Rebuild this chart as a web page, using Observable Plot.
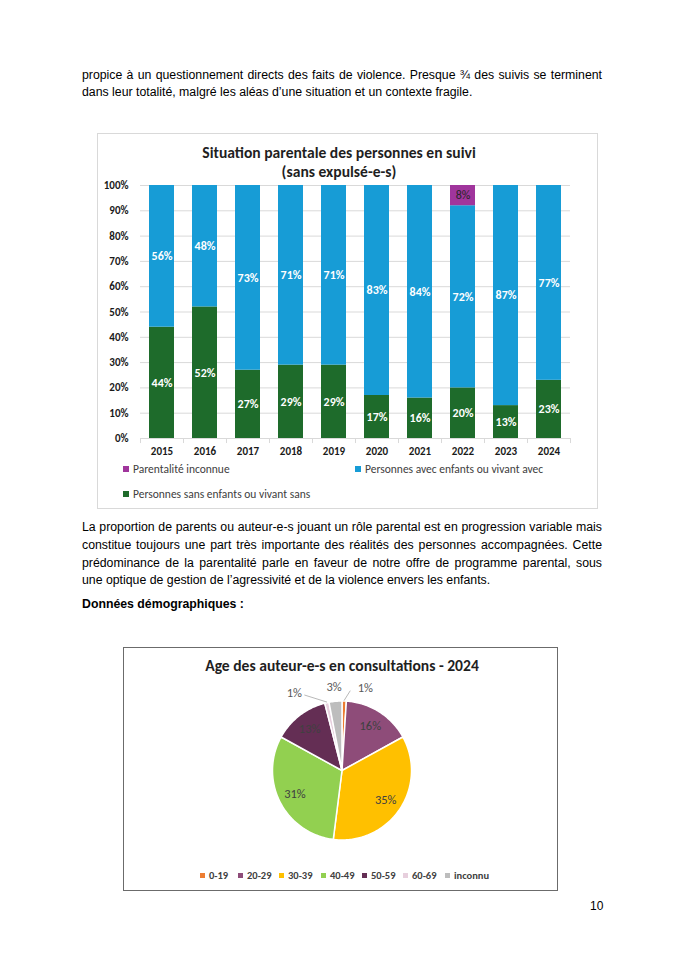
<!DOCTYPE html>
<html><head><meta charset="utf-8">
<script src="https://cdn.jsdelivr.net/npm/d3@7"></script>
<script src="https://cdn.jsdelivr.net/npm/@observablehq/plot@0.6"></script>
<style>
body{margin:0;background:#fff;}
#page{position:relative;width:684px;height:968px;overflow:hidden;font-family:"Liberation Sans",Arial,sans-serif;color:#000;background:#fff;}
.ln{position:absolute;left:82px;font-size:12.3px;line-height:18px;white-space:nowrap;}
.box{position:absolute;box-sizing:border-box;}
.ct{position:absolute;font-family:Carlito,Calibri,Lato,sans-serif;font-weight:bold;white-space:nowrap;transform:translateX(-50%);}
.lg{position:absolute;font-family:Carlito,Calibri,Lato,sans-serif;white-space:nowrap;display:flex;align-items:center;}
.lg i{display:inline-block;}
</style>
</head><body>
<div id="page">
  <div class="ln jl" style="top:66px">propice à un questionnement directs des faits de violence. Presque ¾ des suivis se terminent</div>
  <div class="ln" style="top:83px">dans leur totalité, malgré les aléas d’une situation et un contexte fragile.</div>

  <div class="box" style="left:97px;top:133px;width:501px;height:376px;border:1px solid #d9d9d9;"></div>
  <div class="ct" style="left:339px;top:143px;font-size:15.6px;color:#1f1f1f;">Situation parentale des personnes en suivi</div>
  <div class="ct" style="left:339px;top:162px;font-size:15.6px;color:#1f1f1f;">(sans expulsé-e-s)</div>
  <div id="barLegend"></div>

  <div class="ln jl" style="top:518px">La proportion de parents ou auteur-e-s jouant un rôle parental est en progression variable mais</div>
  <div class="ln jl" style="top:536px">constitue toujours une part très importante des réalités des personnes accompagnées. Cette</div>
  <div class="ln jl" style="top:554px">prédominance de la parentalité parle en faveur de notre offre de programme parental, sous</div>
  <div class="ln" style="top:571px">une optique de gestion de l’agressivité et de la violence envers les enfants.</div>
  <div class="ln" style="top:595px;font-weight:bold">Données démographiques :</div>

  <div class="box" style="left:123px;top:647px;width:435px;height:244px;border:1px solid #6b6b6b;"></div>
  <div class="ct" style="left:342px;top:656px;font-size:15.6px;color:#1f1f1f;">Age des auteur-e-s en consultations - 2024</div>
  <div id="pieLegend"></div>

  <div class="ln" style="top:897px;left:590px;font-size:12px">10</div>
</div>
<script>
// ---------- data: bar chart ----------
const years = ["2015","2016","2017","2018","2019","2020","2021","2022","2023","2024"];
const sansEnfants = [44,52,27,29,29,17,16,20,13,23];
const avecEnfants = [56,48,73,71,71,83,84,72,87,77];
const parentaliteInconnue = [0,0,0,0,0,0,0,8,0,0];
const seriesNames = ["Personnes sans enfants ou vivant sans","Personnes avec enfants ou vivant avec","Parentalité inconnue"];
const seriesColors = ["#1e6b2b","#179cd6","#a0359c"];
const yTicks = [0,10,20,30,40,50,60,70,80,90,100];

// ---------- data: pie chart ----------
const ageCats = ["0-19","20-29","30-39","40-49","50-59","60-69","inconnu"];
const agePct = [1,16,35,31,13,1,3];
const ageColors = ["#ed7d31","#8e4c79","#ffc000","#92d050","#642e54","#e7cfdd","#bdbdbd"];

const CF = "Carlito, Calibri, Lato, sans-serif";
const page = document.getElementById("page");

// justify lines
document.querySelectorAll(".jl").forEach(el => {
  const target = 520;
  const w = el.getBoundingClientRect().width;
  const spaces = (el.textContent.match(/ /g) || []).length;
  el.style.wordSpacing = ((target - w) / spaces) + "px";
});

// ---------- bar chart ----------
const seriesValues = [sansEnfants, avecEnfants, parentaliteInconnue];
const rows = [];
years.forEach((y, i) => seriesNames.forEach((s, k) => {
  if (seriesValues[k][i] > 0) rows.push({year: y, series: s, value: seriesValues[k][i]});
}));
const half = 21.5;
const bar = Plot.plot({
  width: 500, height: 290,
  marginTop: 10, marginBottom: 27, marginLeft: 43, marginRight: 27,
  style: {fontFamily: CF, background: "transparent", overflow: "visible", color: "#1a1a1a"},
  x: {domain: years, paddingInner: 0.42, paddingOuter: 0.21, label: null, tickSize: 0, tickPadding: 9},
  y: {domain: [0, 100], ticks: yTicks, tickFormat: d => d + "%", label: null, tickSize: 0, tickPadding: 12},
  color: {domain: seriesNames, range: seriesColors},
  marks: [
    Plot.ruleY(yTicks, {stroke: "#d9d9d9", strokeWidth: 1}),
    Plot.ruleX(years, {x: d => d, dx: -half, y1: 0, y2: -2, stroke: "#d9d9d9"}),
    Plot.ruleX(years.slice(-1), {x: d => d, dx: half, y1: 0, y2: -2, stroke: "#d9d9d9"}),
    Plot.barY(rows, {x: "year", y: "value", fill: "series", order: seriesNames}),
    Plot.text(rows, Plot.stackY({x: "year", y: "value", z: "series", order: seriesNames,
      text: d => d.series === seriesNames[2] ? null : d.value + "%",
      fill: "white", fontWeight: "bold", fontSize: 12})),
    Plot.text(rows, Plot.stackY({x: "year", y: "value", z: "series", order: seriesNames,
      text: d => d.series === seriesNames[2] ? d.value + "%" : null,
      fill: "#262626", fontSize: 12}))
  ]
});
bar.style.position = "absolute"; bar.style.left = "97px"; bar.style.top = "175px";
bar.querySelectorAll("g[aria-label$='tick label']").forEach(g => { g.setAttribute("font-size", "11"); g.setAttribute("font-weight", "bold"); });
page.appendChild(bar);

// bar legend
const barLegendPos = [[123, 463], [355, 463], [123, 488]];
const legOrder = [2, 1, 0];
legOrder.forEach((k, j) => {
  const d = document.createElement("div");
  d.className = "lg";
  d.style.left = barLegendPos[j][0] + "px"; d.style.top = barLegendPos[j][1] + "px";
  d.style.fontSize = "11.5px"; d.style.color = "#404040"; d.style.height = "12px";
  d.innerHTML = `<i style="width:6px;height:6px;background:${seriesColors[k]};margin-right:4px"></i>${seriesNames[k]}`;
  page.appendChild(d);
});

// ---------- pie chart ----------
const total = d3.sum(agePct);
let acc = 0;
const slices = ageCats.map((c, i) => {
  const a0 = acc / total * 360; acc += agePct[i]; const a1 = acc / total * 360;
  return {cat: c, pct: agePct[i], a0, a1, mid: (a0 + a1) / 2};
});
const rad = a => a * Math.PI / 180;
const pts = [];
for (const s of slices) {
  pts.push({cat: s.cat, x: 0, y: 0});
  const n = Math.max(2, Math.ceil(s.a1 - s.a0));
  for (let k = 0; k <= n; k++) {
    const a = rad(s.a0 + (s.a1 - s.a0) * k / n);
    pts.push({cat: s.cat, x: Math.sin(a), y: Math.cos(a)});
  }
  pts.push({cat: s.cat, x: 0, y: 0});
}
const inner = slices.filter(s => s.pct >= 5).map(s => ({...s, x: 0.76 * Math.sin(rad(s.mid)), y: 0.76 * Math.cos(rad(s.mid))}));
// outside label placement (layout): angular nudge and radius factor
const outerLayout = {"0-19": {da: 14, r: 1.23, lead: [4, 1.15]}, "60-69": {da: -19, r: 1.31, lead: [-13.7, 1.21]}, "inconnu": {da: 0, r: 1.2, lead: null}};
const outer = slices.filter(s => s.pct < 5).map(s => {
  const L = outerLayout[s.cat];
  const a = rad(s.mid + L.da);
  return {...s, x: L.r * Math.sin(a), y: L.r * Math.cos(a)};
});
const leads = [];
slices.filter(s => s.pct < 5 && outerLayout[s.cat].lead).forEach(s => {
  const L = outerLayout[s.cat];
  leads.push({cat: s.cat, x: 1.01 * Math.sin(rad(s.mid)), y: 1.01 * Math.cos(rad(s.mid))});
  const a = rad(s.mid + L.lead[0]);
  leads.push({cat: s.cat, x: L.lead[1] * Math.sin(a), y: L.lead[1] * Math.cos(a)});
});
const R = 69.5, cxp = 218.5, cyp = 80, W = 434, H = 160;
const pie = Plot.plot({
  width: W, height: H,
  marginLeft: cxp - R, marginRight: W - cxp - R, marginTop: cyp - R, marginBottom: H - cyp - R,
  style: {fontFamily: CF, background: "transparent", overflow: "visible"},
  x: {domain: [-1, 1], axis: null},
  y: {domain: [-1, 1], axis: null},
  color: {domain: ageCats, range: ageColors},
  marks: [
    Plot.line(pts, {x: "x", y: "y", z: "cat", fill: "cat", stroke: "white", strokeWidth: 1.5, strokeLinejoin: "round"}),
    Plot.line(leads, {x: "x", y: "y", z: "cat", stroke: "#a6a6a6", strokeWidth: 0.8}),
    Plot.text(inner, {x: "x", y: "y", text: d => d.pct + "%", fill: "#404040", fontSize: 12.5}),
    Plot.text(outer, {x: "x", y: "y", text: d => d.pct + "%", fill: "#595959", fontSize: 12.5})
  ]
});
pie.style.position = "absolute"; pie.style.left = "123px"; pie.style.top = "690px";
page.appendChild(pie);

// pie legend
const pieLegX = [200, 238, 279, 321, 362, 403, 445];
ageCats.forEach((c, i) => {
  const d = document.createElement("div");
  d.className = "lg";
  d.style.left = pieLegX[i] + "px"; d.style.top = "869px";
  d.style.fontSize = "10.5px"; d.style.fontWeight = "bold"; d.style.color = "#404040"; d.style.height = "12px";
  d.innerHTML = `<i style="width:5px;height:5px;background:${ageColors[i]};margin-right:4px"></i>${c}`;
  page.appendChild(d);
});
</script>
</body></html>
